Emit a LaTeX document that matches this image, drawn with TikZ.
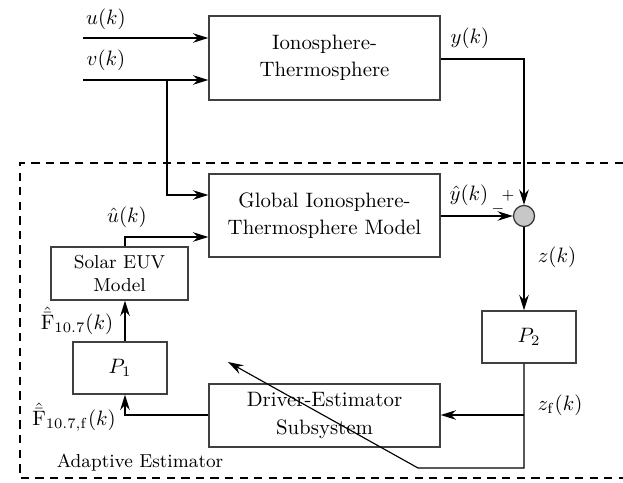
\documentclass[tikz,border=0pt]{standalone}
\usetikzlibrary{arrows.meta}
\begin{document}
\begin{tikzpicture}[x=0.48pt,y=-0.48pt,
  blk/.style={draw=black!75, line width=0.65pt, rectangle, inner sep=0pt, align=center, font={\fontsize{10}{13}\selectfont}},
  smallblk/.style={blk, font={\fontsize{9}{11}\selectfont}},
  arr/.style={-{Stealth[length=7.4pt,width=4.6pt,inset=2.5pt]}, line width=0.55pt},
  ln/.style={line width=0.55pt},
  lbl/.style={inner sep=0pt},
  sign/.style={inner sep=0pt, font=\scriptsize}]
\useasboundingbox (0,0) rectangle (623,483);
% blocks
\node[blk, minimum width=110.88pt, minimum height=40.32pt] (IT) at (324.5,58) {Ionosphere-\\Thermosphere};
\node[blk, minimum width=110.88pt, minimum height=39.84pt] (GIT) at (324.5,215.5) {Global Ionosphere-\\Thermosphere Model};
\node[smallblk, minimum width=65.76pt, minimum height=25.44pt] (SEUV) at (119.5,273.5) {Solar EUV\\Model};
\node[blk, minimum width=45.12pt, minimum height=24.96pt] (P1) at (120,368) {$P_1$};
\node[blk, minimum width=110.88pt, minimum height=30.24pt] (DES) at (324.5,415.5) {Driver-Estimator\\Subsystem};
\node[blk, minimum width=45.12pt, minimum height=24.96pt] (P2) at (529,337) {$P_2$};
\node[circle, draw=black!80, line width=0.6pt, fill=black!22, minimum size=10.1pt, inner sep=0pt] (S) at (524,216) {};
% dashed estimator frame
\draw[dash pattern=on 4pt off 3pt, line width=0.55pt] (623,163) -- (20,163) -- (20,478) -- (623,478);
\node[lbl, font=\small] (AE) at (140,463) {Adaptive Estimator};
% coordinates
\coordinate (uin) at (83,38);
\coordinate (vin) at (83,80);
\coordinate (vb) at (167,80);
\coordinate (gin) at (167,195);
\coordinate (yc) at (524,59);
\coordinate (ux) at (125,237);
\coordinate (px) at (125,300);
\coordinate (fx) at (125,415);
\coordinate (zb) at (524,415);
\coordinate (zc) at (524,468);
\coordinate (zd) at (418,468);
\coordinate (ze) at (228,362);
% connectors
\draw[arr] (uin) -- (IT.west |- uin);
\draw[arr] (vin) -- (IT.west |- vin);
\draw[arr] (vb) -- (gin) -- (GIT.west |- gin);
\draw[arr] (IT.east |- yc) -- (yc) -- (S.north);
\draw[arr] (GIT.east |- S) -- (S.west);
\draw[arr] (SEUV.north -| ux) -- (ux) -- (GIT.west |- ux);
\draw[arr] (P1.north -| px) -- (SEUV.south -| px);
\draw[arr] (DES.west |- fx) -- (fx) -- (P1.south -| fx);
\draw[arr] (S.south) -- (P2.north -| S);
\draw[arr] (P2.south -| S) -- (zc) -- (zd) -- (ze);
\draw[arr] (zb) -- (DES.east |- zb);
% labels
\node[lbl] (lu) at (106,19) {$u(k)$};
\node[lbl] (lv) at (106,60) {$v(k)$};
\node[lbl] (ly) at (470,38) {$y(k)$};
\node[lbl] (lyh) at (469,195) {$\hat y(k)$};
\node[sign] (lm) at (498,209) {$-$};
\node[sign] (lp) at (508,196) {$+$};
\node[lbl] (luh) at (127,217) {$\hat u(k)$};
\node[lbl] (lf) at (77,321) {$\hat{\bar{\mathrm F}}_{10.7}(k)$};
\node[lbl] (lff) at (74,417) {$\hat{\bar{\mathrm F}}_{10.7,\mathrm f}(k)$};
\node[lbl] (lz) at (557,257) {$z(k)$};
\node[lbl] (lzf) at (560,405) {$z_{\mathrm f}(k)$};
\end{tikzpicture}
\end{document}
